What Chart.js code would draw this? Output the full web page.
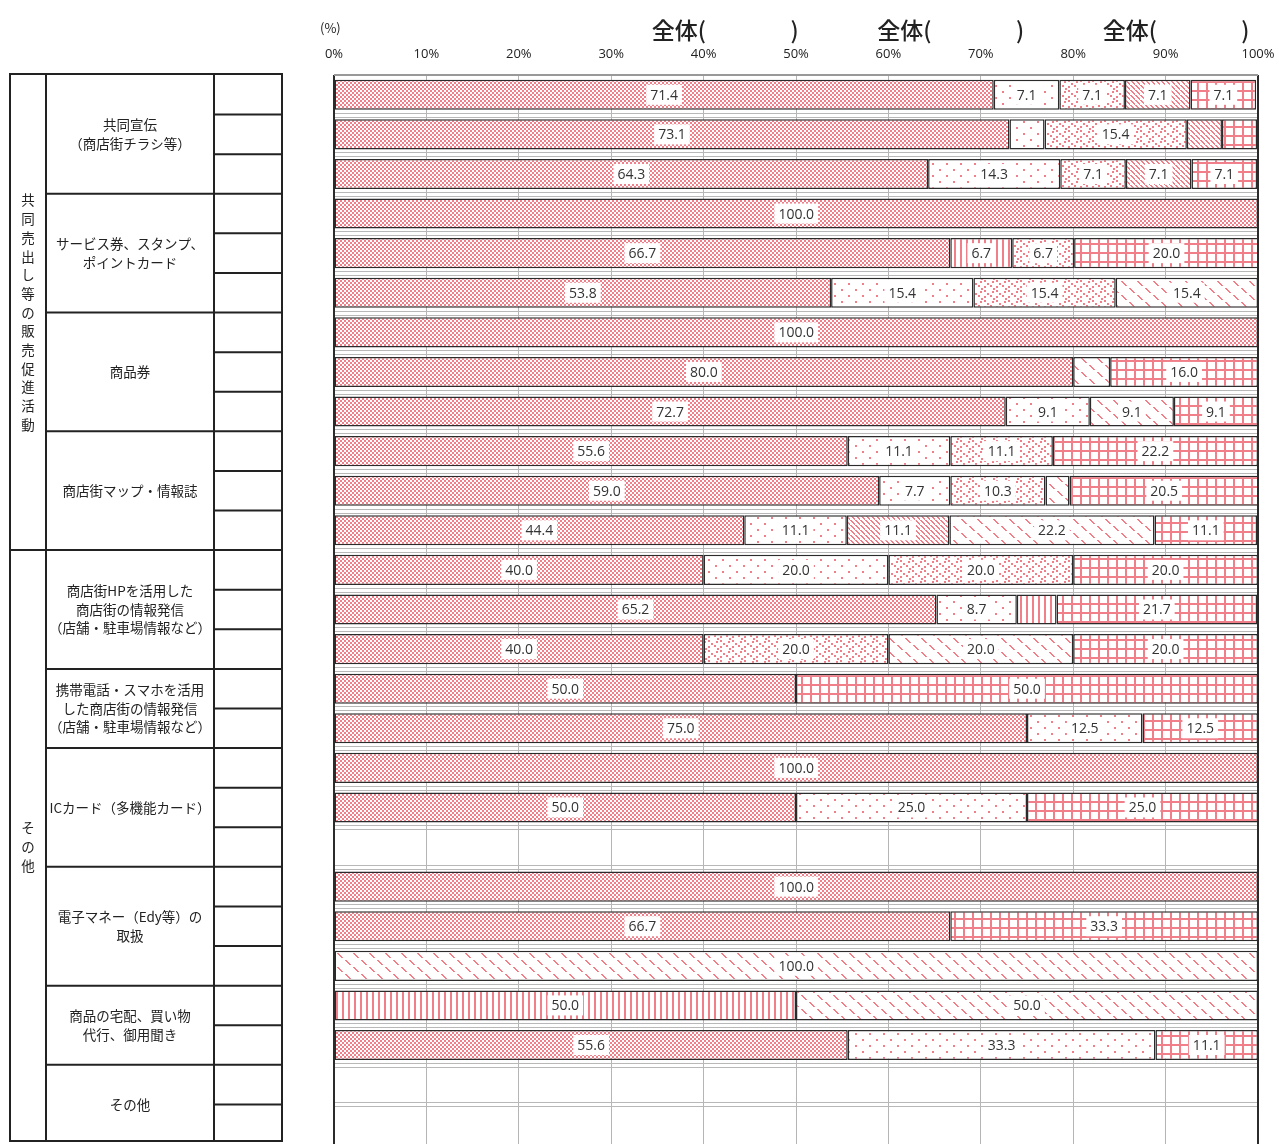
<!DOCTYPE html>
<html>
<head>
<meta charset="utf-8">
<script src="https://cdn.jsdelivr.net/npm/chart.js@4"></script>
<style>
  html, body { margin: 0; padding: 0; background: #fff; }
  #wrap { width: 1279px; height: 1147px; }
</style>
</head>
<body>
<div id="wrap"><canvas id="grafico" width="1279" height="1147"></canvas></div>
<script>
// 左側の表
const groupNames = ["共同売出し等の販売促進活動", "その他"];
const groupItemCounts = [4, 6];
const itemNames = [
  ["共同宣伝", "（商店街チラシ等）"],
  ["サービス券、スタンプ、", "ポイントカード"],
  ["商品券"],
  ["商店街マップ・情報誌"],
  ["商店街HPを活用した", "商店街の情報発信", "（店舗・駐車場情報など）"],
  ["携帯電話・スマホを活用", "した商店街の情報発信", "（店舗・駐車場情報など）"],
  ["ICカード（多機能カード）"],
  ["電子マネー（Edy等）の", "取扱"],
  ["商品の宅配、買い物", "代行、御用聞き"],
  ["その他"]
];
const itemRowCounts = [3, 3, 3, 3, 3, 2, 3, 3, 2, 2];

// 目盛り
const tickValues = [0, 10, 20, 30, 40, 50, 60, 70, 80, 90, 100];

// 系列（行ごとの％）
const serieA = [71.4, 73.1, 64.3, 100.0, 66.7, 53.8, 100.0, 80.0, 72.7, 55.6, 59.0, 44.4, 40.0, 65.2, 40.0, 50.0, 75.0, 100.0, 50.0, null, 100.0, 66.7, null, null, 55.6, null, null];
const serieB = [7.1, 3.8, 14.3, null, null, 15.4, null, null, 9.1, 11.1, 7.7, 11.1, 20.0, 8.7, null, null, 12.5, null, 25.0, null, null, null, null, null, 33.3, null, null];
const serieV = [null, null, null, null, 6.7, null, null, null, null, null, null, null, null, 4.3, null, null, null, null, null, null, null, null, null, 50.0, null, null, null];
const serieC = [7.1, 15.4, 7.1, null, 6.7, 15.4, null, null, null, 11.1, 10.3, null, 20.0, null, 20.0, null, null, null, null, null, null, null, null, null, null, null, null];
const serieE = [7.1, 3.8, 7.1, null, null, null, null, null, null, null, null, 11.1, null, null, null, null, null, null, null, null, null, null, null, null, null, null, null];
const serieF = [null, null, null, null, null, 15.4, null, 4.0, 9.1, null, 2.6, 22.2, null, null, 20.0, null, null, null, null, null, null, null, 100.0, 50.0, null, null, null];
const serieG = [7.1, 3.8, 7.1, null, 20.0, null, null, 16.0, 9.1, 22.2, 20.5, 11.1, 20.0, 21.7, 20.0, 50.0, 12.5, null, 25.0, null, null, 33.3, null, null, 11.1, null, null];

const ROSA = "#f07f8a";

// categorias: uma linha por sub-linha de cada item
const categorias = [];
itemNames.forEach((nome, i) => {
  for (let k = 0; k < itemRowCounts[i]; k++) categorias.push(nome.join("") + "-" + (k + 1));
});

function padrao(w, h, desenha) {
  const c = document.createElement("canvas");
  c.width = w; c.height = h;
  const g = c.getContext("2d");
  g.fillStyle = "#fff";
  g.fillRect(0, 0, w, h);
  g.fillStyle = ROSA;
  desenha(g);
  return g.createPattern(c, "repeat");
}

const padroes = {
  xadrez: padrao(4, 4, g => { g.fillRect(0, 0, 2, 2); g.fillRect(2, 2, 2, 2); }),
  pontos: padrao(14, 12, g => { g.fillRect(1, 1, 2, 2); g.fillRect(8, 7, 2, 2); }),
  vertical: padrao(6, 4, g => { g.fillRect(0, 0, 2, 4); }),
  espalhado: padrao(12, 10, g => {
    g.fillRect(0, 0, 2, 2); g.fillRect(3, 3, 2, 2); g.fillRect(0, 6, 2, 2);
    g.fillRect(8, 1, 2, 2); g.fillRect(6, 5, 2, 2); g.fillRect(9, 8, 2, 2);
  }),
  diagDensa: padrao(5, 5, g => { for (let i = 0; i < 5; i++) g.fillRect(i, i, 2, 1); }),
  diagRala: padrao(16, 14, g => {
    for (let i = 0; i < 5; i++) { g.fillRect(1 + i, 1 + i, 2, 1); g.fillRect(9 + i, 8 + i, 2, 1); }
  }),
  grade: padrao(9, 9, g => { g.fillRect(0, 0, 9, 2); g.fillRect(0, 0, 2, 9); })
};

function serie(label, data, fundo) {
  return {
    label: label,
    data: data,
    backgroundColor: fundo,
    borderColor: "#2b2b2b",
    borderWidth: 1.5,
    borderSkipped: false,
    categoryPercentage: 1,
    barPercentage: 0.76
  };
}

// tabela da esquerda, desenhada usando a escala y
const tabela = {
  id: "tabela",
  afterDraw(chart) {
    const ctx = chart.ctx;
    const y = chart.scales.y;
    const topo = chart.chartArea.top - 1, base = 1141;
    const passo = y.getPixelForValue(1) - y.getPixelForValue(0);
    const borda = i => y.getPixelForValue(0) - passo / 2 + i * passo;
    const x0 = 10, x1 = 46, x2 = 214, x3 = 282;
    ctx.save();
    ctx.strokeStyle = "#222";
    ctx.lineWidth = 2;
    ctx.strokeRect(x0, topo, x3 - x0, base - topo);
    ctx.beginPath();
    ctx.moveTo(x1, topo); ctx.lineTo(x1, base);
    ctx.moveTo(x2, topo); ctx.lineTo(x2, base);
    ctx.stroke();

    ctx.fillStyle = "#222";
    ctx.textAlign = "center";
    ctx.textBaseline = "middle";
    ctx.font = "13.5px 'Noto Sans CJK JP'";

    let linha = 0, item = 0;
    groupNames.forEach((grupo, gi) => {
      const iniGrupo = linha;
      for (let n = 0; n < groupItemCounts[gi]; n++, item++) {
        const ini = linha;
        const fim = linha + itemRowCounts[item];
        // linhas internas da coluna da direita
        ctx.beginPath();
        for (let r = ini + 1; r < fim; r++) {
          ctx.moveTo(x2, borda(r)); ctx.lineTo(x3, borda(r));
        }
        ctx.stroke();
        const cy = (borda(ini) + borda(fim)) / 2;
        const nomes = itemNames[item];
        nomes.forEach((t, k) => {
          ctx.fillText(t, (x1 + x2) / 2, cy + (k - (nomes.length - 1) / 2) * 18.5);
        });
        if (fim < 27) {
          ctx.beginPath();
          ctx.moveTo(n === groupItemCounts[gi] - 1 ? x0 : x1, borda(fim));
          ctx.lineTo(x3, borda(fim));
          ctx.stroke();
        }
        linha = fim;
      }
      const cy = (borda(iniGrupo) + borda(linha)) / 2;
      const chars = Array.from(grupo);
      chars.forEach((ch, k) => {
        ctx.fillText(ch, (x0 + x1) / 2, cy + (k - (chars.length - 1) / 2) * 18.7);
      });
    });

    // cabeçalho
    const x = chart.scales.x;
    ctx.font = "13px 'Noto Sans CJK JP'";
    ctx.textAlign = "left";
    ctx.fillText("(%)", 320, 28);
    ctx.font = "500 23px 'Noto Sans CJK JP'";
    [34.4, 58.8, 83.2].forEach(p => {
      ctx.textAlign = "left";
      ctx.fillText("全体(", x.getPixelForValue(p), 30);
      ctx.fillText(")", x.getPixelForValue(p + 15), 30);
    });
    ctx.restore();
  }
};

// linhas duplas cinzas entre barras e bordas da área
const grade = {
  id: "grade",
  beforeDatasetsDraw(chart) {
    const ctx = chart.ctx;
    const a = chart.chartArea;
    const y = chart.scales.y;
    ctx.save();
    ctx.strokeStyle = "#b8b8b8";
    ctx.lineWidth = 1;
    for (let i = 0; i < categorias.length - 1; i++) {
      const m = (y.getPixelForValue(i) + y.getPixelForValue(i + 1)) / 2;
      ctx.beginPath();
      ctx.moveTo(a.left, Math.round(m - 2) + 0.5); ctx.lineTo(a.right, Math.round(m - 2) + 0.5);
      ctx.moveTo(a.left, Math.round(m + 2) + 0.5); ctx.lineTo(a.right, Math.round(m + 2) + 0.5);
      ctx.stroke();
    }
    ctx.restore();
  },
  afterDatasetsDraw(chart) {
    const ctx = chart.ctx;
    const a = chart.chartArea;
    ctx.save();
    ctx.strokeStyle = "#2b2b2b";
    ctx.lineWidth = 2;
    ctx.beginPath();
    ctx.moveTo(a.left, a.top); ctx.lineTo(a.left, a.bottom);
    ctx.moveTo(a.right, a.top); ctx.lineTo(a.right, a.bottom);
    ctx.stroke();
    ctx.strokeStyle = "#999";
    ctx.beginPath();
    ctx.moveTo(a.left, a.top); ctx.lineTo(a.right, a.top);
    ctx.stroke();
    ctx.restore();
  }
};

// rótulos com fundo branco
const rotulos = {
  id: "rotulos",
  afterDatasetsDraw(chart) {
    const ctx = chart.ctx;
    ctx.save();
    ctx.font = "14px 'Open Sans'";
    ctx.textAlign = "center";
    ctx.textBaseline = "middle";
    chart.data.datasets.forEach((ds, di) => {
      const meta = chart.getDatasetMeta(di);
      meta.data.forEach((el, i) => {
        const v = ds.data[i];
        if (v == null || v < 5) return;
        const txt = v.toFixed(1);
        const cx = (el.x + el.base) / 2;
        const w = ctx.measureText(txt).width + 8;
        ctx.fillStyle = "#fff";
        ctx.fillRect(cx - w / 2, el.y - 10, w, 20);
        ctx.fillStyle = "#333";
        ctx.fillText(txt, cx, el.y + 1);
      });
    });
    ctx.restore();
  }
};

const ctx = document.getElementById("grafico").getContext("2d");
new Chart(ctx, {
  type: "bar",
  data: {
    labels: categorias,
    datasets: [
      serie("A", serieA, padroes.xadrez),
      serie("B", serieB, padroes.pontos),
      serie("V", serieV, padroes.vertical),
      serie("C", serieC, padroes.espalhado),
      serie("E", serieE, padroes.diagDensa),
      serie("F", serieF, padroes.diagRala),
      serie("G", serieG, padroes.grade)
    ]
  },
  options: {
    indexAxis: "y",
    responsive: false,
    animation: false,
    devicePixelRatio: 1,
    layout: { autoPadding: false, padding: { left: 334, right: 21, top: 0, bottom: 3 } },
    plugins: {
      legend: { display: false },
      tooltip: { enabled: false }
    },
    scales: {
      x: {
        position: "top",
        stacked: true,
        min: 0,
        max: 100,
        afterBuildTicks: s => { s.ticks = tickValues.map(v => ({ value: v })); },
        afterFit: s => { s.height = 75; s.paddingLeft = 0; s.paddingRight = 0; },
        ticks: {
          callback: v => v + "%",
          font: { size: 13, family: "'Open Sans'" },
          color: "#222",
          padding: 13,
          maxRotation: 0
        },
        grid: { color: "#b5b5b5", drawTicks: false },
        border: { display: false }
      },
      y: {
        stacked: true,
        ticks: { display: false },
        grid: { display: false },
        border: { display: false },
        afterFit: s => { s.width = 0; }
      }
    }
  },
  plugins: [grade, rotulos, tabela]
});
</script>
</body>
</html>
